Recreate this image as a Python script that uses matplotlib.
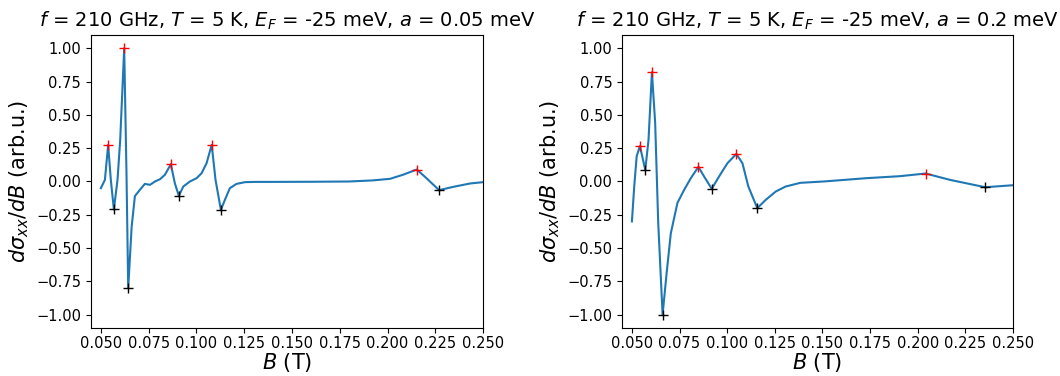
import matplotlib
matplotlib.use("Agg")
import matplotlib.pyplot as plt

# Left panel (a = 0.05 meV)
B_left = [0.0500, 0.0521, 0.0538, 0.0552, 0.0568, 0.0587, 0.0601, 0.0622, 0.0634,
          0.0643, 0.0661, 0.0678, 0.0704, 0.0730, 0.0757, 0.0783, 0.0809, 0.0835,
          0.0866, 0.0887, 0.0908, 0.0931, 0.0966, 0.1001, 0.1027, 0.1053, 0.1080,
          0.1100, 0.1128, 0.1149, 0.1175, 0.1210, 0.1254, 0.1306, 0.1400, 0.1600,
          0.1800, 0.1920, 0.2013, 0.2080, 0.2153, 0.2200, 0.2270, 0.2345, 0.2432,
          0.2500]
S_left = [-0.050, 0.012, 0.275, 0.012, -0.210, 0.012, 0.310, 1.000, 0.060,
          -0.800, -0.340, -0.110, -0.063, -0.018, -0.025, 0.000, 0.017, 0.050,
          0.130, -0.013, -0.108, -0.038, 0.000, 0.025, 0.062, 0.137, 0.275,
          0.012, -0.213, -0.138, -0.050, -0.018, -0.005, -0.003, -0.003, -0.002,
          0.000, 0.008, 0.020, 0.050, 0.090, 0.030, -0.065, -0.040, -0.015,
          -0.005]
peaks_left_B = [0.0538, 0.0622, 0.0866, 0.1080, 0.2153]
peaks_left_S = [0.275, 1.000, 0.130, 0.275, 0.090]
troughs_left_B = [0.0568, 0.0643, 0.0908, 0.1128, 0.2270]
troughs_left_S = [-0.210, -0.800, -0.108, -0.213, -0.065]

# Right panel (a = 0.2 meV)
B_right = [0.0500, 0.0512, 0.0525, 0.0542, 0.0570, 0.0587, 0.0605, 0.0622, 0.0638,
           0.0661, 0.0682, 0.0704, 0.0739, 0.0774, 0.0809, 0.0849, 0.0879, 0.0919,
           0.0957, 0.1001, 0.1048, 0.1080, 0.1111, 0.1158, 0.1202, 0.1254, 0.1306,
           0.1384, 0.1505, 0.1731, 0.1907, 0.2041, 0.2170, 0.2354, 0.2500]
S_right = [-0.300, -0.040, 0.190, 0.267, 0.087, 0.310, 0.820, 0.440, -0.310,
           -1.000, -0.690, -0.390, -0.160, -0.063, 0.025, 0.110, 0.037, -0.055,
           0.037, 0.137, 0.207, 0.137, -0.038, -0.200, -0.138, -0.076, -0.038,
           -0.010, 0.000, 0.025, 0.040, 0.060, 0.012, -0.043, -0.028]
peaks_right_B = [0.0542, 0.0605, 0.0849, 0.1048, 0.2041]
peaks_right_S = [0.267, 0.820, 0.110, 0.207, 0.060]
troughs_right_B = [0.0570, 0.0661, 0.0919, 0.1158, 0.2354]
troughs_right_S = [0.087, -1.000, -0.055, -0.200, -0.043]

titles = [r"$f$ = 210 GHz, $T$ = 5 K, $E_F$ = -25 meV, $a$ = 0.05 meV",
          r"$f$ = 210 GHz, $T$ = 5 K, $E_F$ = -25 meV, $a$ = 0.2 meV"]
xticks = [0.050, 0.075, 0.100, 0.125, 0.150, 0.175, 0.200, 0.225, 0.250]
yticks = [-1.00, -0.75, -0.50, -0.25, 0.00, 0.25, 0.50, 0.75, 1.00]

fig = plt.figure(figsize=(10.6, 3.76), dpi=100)
ax1 = fig.add_axes([0.0858, 0.1277, 0.3699, 0.7792])
ax2 = fig.add_axes([0.5868, 0.1277, 0.3689, 0.7792])

panels = [
    (ax1, B_left, S_left, peaks_left_B, peaks_left_S, troughs_left_B, troughs_left_S),
    (ax2, B_right, S_right, peaks_right_B, peaks_right_S, troughs_right_B, troughs_right_S),
]
for i, (ax, B, S, pB, pS, tB, tS) in enumerate(panels):
    ax.plot(B, S, color="#1f77b4", lw=1.5)
    ax.plot(pB, pS, "+", color="red", ms=7)
    ax.plot(tB, tS, "+", color="black", ms=7)
    ax.set_xlim(0.0448, 0.25)
    ax.set_ylim(-1.1, 1.1)
    ax.set_xticks(xticks)
    ax.set_yticks(yticks)
    ax.tick_params(labelsize=10.5)
    ax.tick_params(axis="x", pad=2.5)
    ax.set_title(titles[i], fontsize=14)
    ax.set_xlabel(r"$B$ (T)", fontsize=15, labelpad=0)
    ax.set_ylabel(r"$d\sigma_{xx}/dB$ (arb.u.)", fontsize=15)

fig.savefig("out.png", dpi=100)
